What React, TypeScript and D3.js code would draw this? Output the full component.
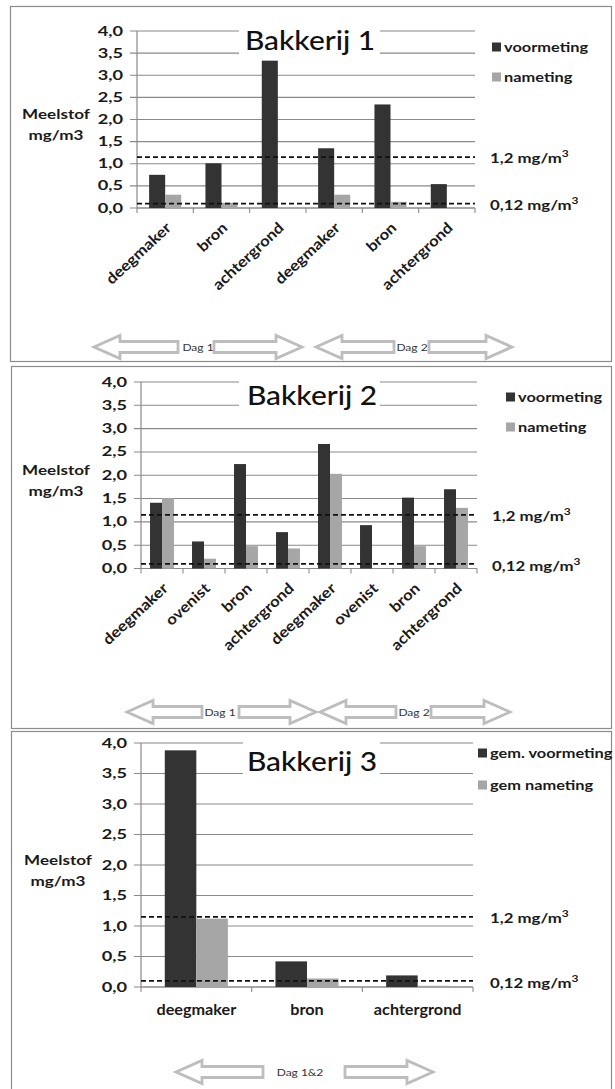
import React from "react";
import * as d3 from "d3";

const yTickValues = [0, 0.5, 1, 1.5, 2, 2.5, 3, 3.5, 4];
const seriesColors = ["#333333", "#a6a6a6"];

const b1Categories = ["deegmaker", "bron", "achtergrond", "deegmaker", "bron", "achtergrond"];
const b1Voormeting = [0.75, 1.01, 3.33, 1.35, 2.34, 0.54];
const b1Nameting = [0.3, 0.12, 0, 0.3, 0.14, 0];
const b1Legend = ["voormeting", "nameting"];
const b1Days = ["Dag 1", "Dag 2"];

const b2Categories = ["deegmaker", "ovenist", "bron", "achtergrond", "deegmaker", "ovenist", "bron", "achtergrond"];
const b2Voormeting = [1.41, 0.58, 2.24, 0.78, 2.67, 0.93, 1.52, 1.7];
const b2Nameting = [1.51, 0.21, 0.48, 0.43, 2.03, 0, 0.48, 1.3];
const b2Legend = ["voormeting", "nameting"];
const b2Days = ["Dag 1", "Dag 2"];

const b3Categories = ["deegmaker", "bron", "achtergrond"];
const b3Voormeting = [3.88, 0.42, 0.19];
const b3Nameting = [1.12, 0.14, 0.02];
const b3Legend = ["gem. voormeting", "gem nameting"];
const b3Days = ["Dag 1&2"];

const refValues = [1.15, 0.1];
const refLabels = ["1,2 mg/m", "0,12 mg/m"];

const FONT = "Lato, 'Open Sans', sans-serif";
const fmt = (d: number) => d.toFixed(1).replace(".", ",");

function Txt({ x, y, sx = 1, rot = 0, anchor = "start", size = 14, weight = 700, fill = "#1a1a1a", dy = "0.35em", children }: any) {
  return (
    <text
      transform={`translate(${x},${y}) rotate(${rot}) scale(${sx},1)`}
      textAnchor={anchor}
      fontSize={size}
      fontWeight={weight}
      fontFamily={FONT}
      fill={fill}
      dy={dy}
    >
      {children}
    </text>
  );
}

function arrowPath(tip: number, tail: number, cy: number) {
  const H = 23, h = 11, L = 26;
  const dir = tail > tip ? 1 : -1;
  const hb = tip + dir * L;
  return `M${tip},${cy} L${hb},${cy - H / 2} L${hb},${cy - h / 2} L${tail},${cy - h / 2} L${tail},${cy + h / 2} L${hb},${cy + h / 2} L${hb},${cy + H / 2} Z`;
}

function Panel({ cfg }: any) {
  const { categories, series, legend, days, title } = cfg;
  const y = d3.scaleLinear().domain([0, 4]).range([cfg.yBottom, cfg.yTop]);
  const x = d3.scaleBand<number>().domain(d3.range(categories.length)).range([cfg.x0, cfg.x1]).padding(0);
  const bw = x.bandwidth();
  const groupW = bw * 0.57;
  const inner = d3.scaleBand<number>().domain([0, 1]).range([0, groupW]).padding(0);
  const [bx0, by0, bx1, by1] = cfg.box;
  return (
    <g>
      <rect x={bx0 + 0.5} y={by0 + 0.5} width={bx1 - bx0} height={by1 - by0} fill="#fff" stroke="#8c8c8c" strokeWidth={1.2} />
      {yTickValues.map((t) => (
        <line key={"g" + t} x1={cfg.x0 - 7} x2={cfg.x1} y1={y(t)} y2={y(t)} stroke="#8a8a8a" strokeWidth={1.1} />
      ))}
      <rect x={cfg.titleBox[0]} y={cfg.yTop - 7} width={cfg.titleBox[1] - cfg.titleBox[0]} height={y(3.5) - cfg.yTop + 12} fill="#fff" />
      <line x1={cfg.x0} x2={cfg.x0} y1={cfg.yTop} y2={cfg.yBottom} stroke="#8a8a8a" strokeWidth={1.2} />
      <line x1={cfg.x0} x2={cfg.x1} y1={cfg.yBottom} y2={cfg.yBottom} stroke="#8a8a8a" strokeWidth={1.2} />
      {d3.range(categories.length + 1).map((i) => {
        const xx = i < categories.length ? (x(i) as number) : cfg.x1;
        return <line key={"xt" + i} x1={xx} x2={xx} y1={cfg.yBottom} y2={cfg.yBottom + 5} stroke="#8a8a8a" strokeWidth={1.1} />;
      })}
      {yTickValues.map((t) => (
        <Txt key={"yl" + t} x={cfg.x0 - 14} y={y(t)} anchor="end" size={13} sx={1.4}>
          {fmt(t)}
        </Txt>
      ))}
      {categories.map((c: string, i: number) =>
        series.map((s: number[], k: number) =>
          s[i] > 0 ? (
            <rect
              key={"b" + i + "-" + k}
              x={(x(i) as number) + (bw - groupW) / 2 + (inner(k) as number)}
              y={y(s[i])}
              width={inner.bandwidth()}
              height={cfg.yBottom - y(s[i])}
              fill={seriesColors[k]}
            />
          ) : null
        )
      )}
      {refValues.map((v, k) => (
        <g key={"r" + k}>
          <line x1={cfg.x0} x2={cfg.x1} y1={y(v)} y2={y(v)} stroke="#111" strokeWidth={1.6} strokeDasharray="5,3" />
          <Txt x={cfg.refX} y={y(v) + 1 + k} size={14} sx={1.2}>
            {refLabels[k]}
            <tspan dy="-6" fontSize={10}>3</tspan>
          </Txt>
        </g>
      ))}
      <Txt x={cfg.titleX} y={cfg.titleY} anchor="middle" size={26} weight={500} sx={1.15} dy="0" fill="#111">
        {title}
      </Txt>
      {legend.map((l: string, k: number) => (
        <g key={"lg" + k}>
          <rect x={cfg.legendX} y={cfg.legendY[k] - 4.5} width={9} height={9} fill={seriesColors[k]} />
          <Txt x={cfg.legendX + 12} y={cfg.legendY[k]} size={14} sx={1.17}>
            {l}
          </Txt>
        </g>
      ))}
      <Txt x={cfg.yLabelX} y={y(2) - 5} anchor="middle" size={14} sx={1.22}>Meelstof</Txt>
      <Txt x={cfg.yLabelX} y={y(2) + 16} anchor="middle" size={14} sx={1.22}>mg/m3</Txt>
      {categories.map((c: string, i: number) => {
        const cx = (x(i) as number) + bw / 2;
        return cfg.rotated ? (
          <Txt key={"xl" + i} x={cx + 7} y={cfg.yBottom + 21} rot={-43} anchor="end" size={15} sx={1.12} dy="0">
            {c}
          </Txt>
        ) : (
          <Txt key={"xl" + i} x={cx} y={cfg.yBottom + 23} anchor="middle" size={15} sx={1.08}>
            {c}
          </Txt>
        );
      })}
      {cfg.arrows.map((a: any, k: number) => (
        <g key={"ar" + k}>
          <path d={arrowPath(a.l[0], a.l[1], cfg.arrowY)} fill="#fff" stroke="#bdbdbd" strokeWidth={2.8} strokeLinejoin="miter" />
          <path d={arrowPath(a.r[1], a.r[0], cfg.arrowY)} fill="#fff" stroke="#bdbdbd" strokeWidth={2.8} strokeLinejoin="miter" />
          <Txt x={a.label} y={cfg.arrowY} anchor="middle" size={10} weight={400} sx={1.2} fill="#333">
            {days[k]}
          </Txt>
        </g>
      ))}
    </g>
  );
}

export default function App() {
  const panels = [
    {
      title: "Bakkerij 1", categories: b1Categories, series: [b1Voormeting, b1Nameting], legend: b1Legend, days: b1Days,
      box: [10, 6, 611, 361], x0: 137, x1: 475, yTop: 31, yBottom: 208,
      titleX: 310, titleY: 50, titleBox: [239, 380], legendX: 492, legendY: [47, 77],
      yLabelX: 56, refX: 490, rotated: true, arrowY: 347,
      arrows: [{ l: [94, 178], label: 198, r: [214, 302] }, { l: [316, 394], label: 412, r: [429, 512] }],
    },
    {
      title: "Bakkerij 2", categories: b2Categories, series: [b2Voormeting, b2Nameting], legend: b2Legend, days: b2Days,
      box: [11, 366, 611, 728], x0: 141, x1: 477, yTop: 382, yBottom: 568.5,
      titleX: 312, titleY: 405, titleBox: [239, 380], legendX: 506, legendY: [397, 427],
      yLabelX: 56, refX: 492, rotated: true, arrowY: 712,
      arrows: [{ l: [127, 202], label: 220, r: [239, 316] }, { l: [320, 396], label: 414, r: [431, 510] }],
    },
    {
      title: "Bakkerij 3", categories: b3Categories, series: [b3Voormeting, b3Nameting], legend: b3Legend, days: b3Days,
      box: [11, 731, 611, 1095], x0: 141, x1: 473, yTop: 743, yBottom: 987,
      titleX: 312, titleY: 771, titleBox: [243, 380], legendX: 478, legendY: [753, 785],
      yLabelX: 58, refX: 490, rotated: false, arrowY: 1072,
      arrows: [{ l: [176, 263], label: 300, r: [345, 433] }],
    },
  ];
  return (
    <svg width={615} height={1089} style={{ position: "absolute", left: 0, top: 0, background: "#fff" }}>
      <rect x={0} y={0} width={615} height={1089} fill="#fff" />
      {panels.map((p, i) => (
        <Panel key={i} cfg={p} />
      ))}
    </svg>
  );
}
